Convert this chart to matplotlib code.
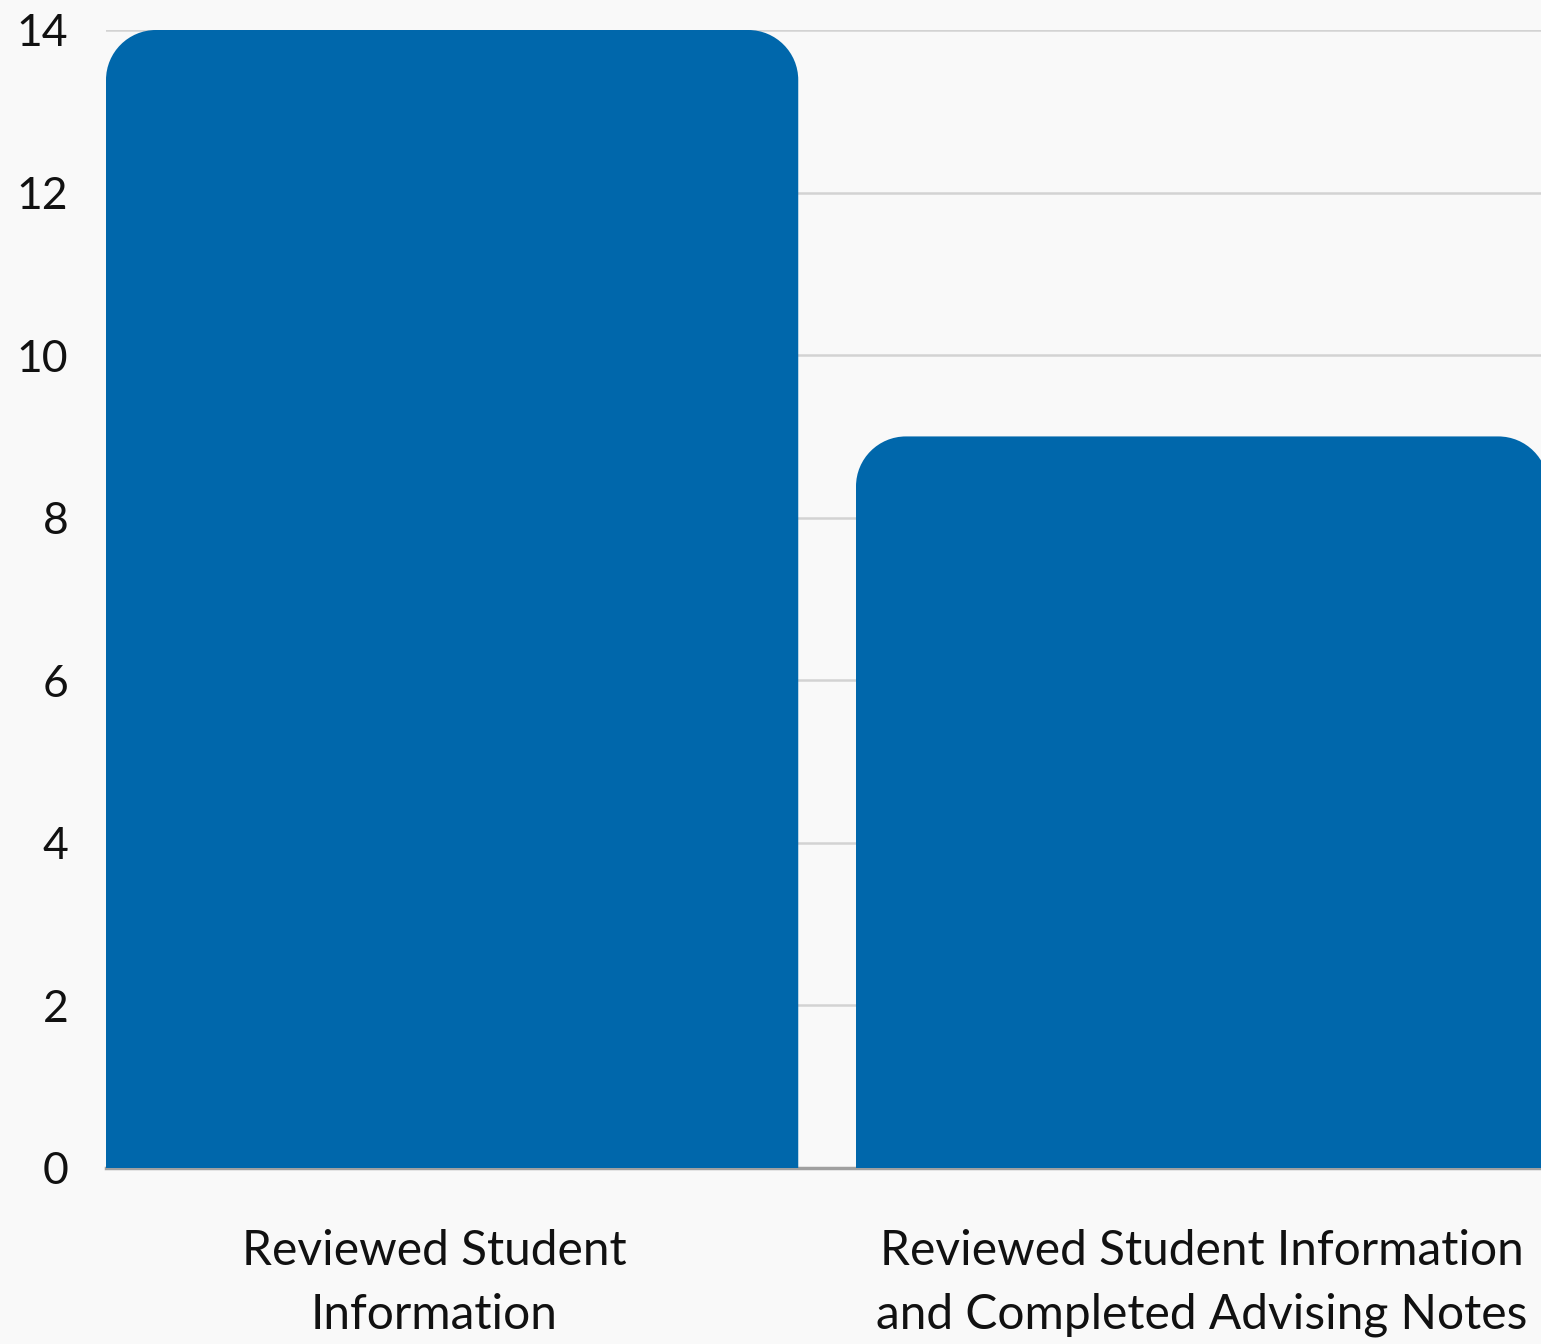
import matplotlib
matplotlib.use("Agg")
import matplotlib.pyplot as plt
from matplotlib.path import Path
from matplotlib.patches import PathPatch
from matplotlib.transforms import ScaledTranslation

categories = ["Reviewed Student\nInformation",
              "Reviewed Student Information\nand Completed Advising Notes"]
values = [14, 9]
yticks = [0, 2, 4, 6, 8, 10, 12, 14]

BG = "#f9f9f9"
BAR = "#0067ab"
FONT = ["Lato", "DejaVu Sans"]

fig = plt.figure(figsize=(15.41, 13.44), dpi=100, facecolor=BG)
ax = fig.add_axes([106/1541, (1344-1168)/1344, 1 - 106/1541, (1168-30)/1344])
ax.set_facecolor(BG)

width = 0.923
x = list(range(len(categories)))
bars = ax.bar(x, values, width=width, color=BAR, zorder=2)

ax.set_xlim(-width/2, -width/2 + 1435/750)
ax.set_ylim(0, 14)

# rounded top corners
px_per_x = 750.0
px_per_y = 1138 / 14
r_px = 50
rx = r_px / px_per_x
ry = r_px / px_per_y
k = 0.5523
for b in bars:
    b.set_visible(False)
    x0 = b.get_x(); x1 = x0 + b.get_width(); h = b.get_height()
    verts = [(x0, 0), (x0, h - ry),
             (x0, h - ry + k*ry), (x0 + rx - k*rx, h), (x0 + rx, h),
             (x1 - rx, h),
             (x1 - rx + k*rx, h), (x1, h - ry + k*ry), (x1, h - ry),
             (x1, 0), (x0, 0)]
    codes = [Path.MOVETO, Path.LINETO,
             Path.CURVE4, Path.CURVE4, Path.CURVE4,
             Path.LINETO,
             Path.CURVE4, Path.CURVE4, Path.CURVE4,
             Path.LINETO, Path.CLOSEPOLY]
    ax.add_patch(PathPatch(Path(verts, codes), facecolor=BAR, edgecolor="none", zorder=2))

ax.set_yticks(yticks)
ax.set_yticklabels([str(t) for t in yticks], fontsize=32, family=FONT, color="#111111")
ax.tick_params(axis="y", length=0, pad=27)
ax.set_xticks(x)
ax.set_xticklabels(categories, fontsize=34.5, family=FONT, color="#111111", linespacing=1.55)
ax.tick_params(axis="x", length=0, pad=44)
lbl0 = ax.get_xticklabels()[0]
lbl0.set_transform(lbl0.get_transform() + ScaledTranslation(-18/100, 0, fig.dpi_scale_trans))

ax.grid(axis="y", color="#d3d3d3", linewidth=1.8, zorder=0)
ax.set_axisbelow(True)
for s in ["top", "right", "left"]:
    ax.spines[s].set_visible(False)
ax.spines["bottom"].set_color("#a0a0a0")
ax.spines["bottom"].set_linewidth(2.5)
ax.spines["bottom"].set_zorder(1)

fig.savefig("out.png", dpi=100, facecolor=BG)
